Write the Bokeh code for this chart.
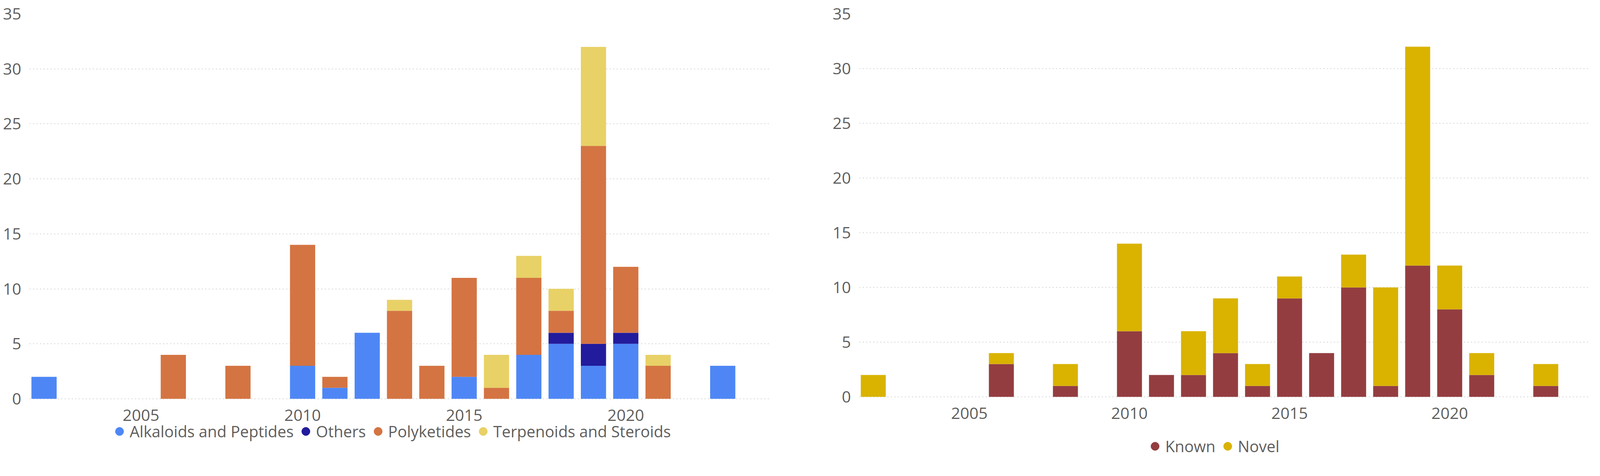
from bokeh.plotting import figure
from bokeh.models import (ColumnDataSource, Range1d, FixedTicker, Legend, LegendItem)
from bokeh.layouts import row
from bokeh.embed import file_html
from bokeh.resources import INLINE

# ---------------- data ----------------
years = [2002, 2006, 2008, 2010, 2011, 2012, 2013, 2014, 2015, 2016, 2017, 2018, 2019, 2020, 2021, 2023]

alkaloids_peptides   = [2, 0, 0, 3, 1, 6, 0, 0, 2, 0, 4, 5, 3, 5, 0, 3]
others               = [0, 0, 0, 0, 0, 0, 0, 0, 0, 0, 0, 1, 2, 1, 0, 0]
polyketides          = [0, 4, 3, 11, 1, 0, 8, 3, 9, 1, 7, 2, 18, 6, 3, 0]
terpenoids_steroids  = [0, 0, 0, 0, 0, 0, 1, 0, 0, 3, 2, 2, 9, 0, 1, 0]

known = [0, 3, 1, 6, 2, 2, 4, 1, 9, 4, 10, 1, 12, 8, 2, 1]
novel = [2, 1, 2, 8, 0, 4, 5, 2, 2, 0, 3, 9, 20, 4, 2, 2]

class_names = ["Alkaloids and Peptides", "Others", "Polyketides", "Terpenoids and Steroids"]
class_colors = ["#4E87F5", "#221C9C", "#D47442", "#E8D166"]
status_names = ["Known", "Novel"]
status_colors = ["#943D40", "#D9B300"]

x_ticks = [2005, 2010, 2015, 2020]
y_ticks = [0, 5, 10, 15, 20, 25, 30, 35]

FONT = "Open Sans"
TXT = "#605E5C"
NAN = float("nan")


def make_fig(keys, data, names, colors, x0, x1, y0, frame_w, frame_h, top, bottom,
             left, right, leg_x, leg_y):
    src = ColumnDataSource(dict(year=years, **{k: v for k, v in zip(keys, data)}))
    p = figure(output_backend="svg", toolbar_location=None,
               x_range=Range1d(x0, x1), y_range=Range1d(y0, 35),
               frame_width=frame_w, frame_height=frame_h,
               min_border_left=left, min_border_right=right,
               min_border_top=top, min_border_bottom=bottom,
               background_fill_color="white", border_fill_color="white")
    p.outline_line_color = None
    p.vbar_stack(keys, x="year", width=0.78, color=colors, line_width=0, source=src)

    for ax in (p.xaxis[0], p.yaxis[0]):
        ax.axis_line_color = None
        ax.major_tick_line_color = None
        ax.minor_tick_line_color = None
        ax.major_tick_in = 0
        ax.major_tick_out = 0
        ax.minor_tick_out = 0
        ax.major_label_text_font = FONT
        ax.major_label_text_font_size = "41px"
        ax.major_label_text_color = TXT
    p.xaxis.ticker = FixedTicker(ticks=x_ticks)
    p.xaxis.fixed_location = 0
    p.yaxis.ticker = FixedTicker(ticks=y_ticks)
    p.yaxis.major_label_standoff = 21
    p.xaxis.major_label_standoff = 28

    p.xgrid.grid_line_color = None
    p.ygrid.grid_line_color = "#D4D4D4"
    p.ygrid.grid_line_width = 2
    p.ygrid.grid_line_dash = "3 6"

    # legend proxies: one undrawn (NaN) point each, only used for the legend swatch
    items = []
    for n, c in zip(names, colors):
        r = p.scatter(x=[NAN], y=[NAN], marker="circle", size=10,
                      fill_color=c, line_color=c)
        items.append(LegendItem(label=n, renderers=[r]))
    leg = Legend(items=items, orientation="horizontal", location=(leg_x, leg_y),
                 glyph_width=53, glyph_height=53, label_standoff=-7, spacing=4,
                 label_text_font=FONT, label_text_font_size="40px",
                 label_text_color=TXT, border_line_color=None,
                 background_fill_alpha=0, padding=0, margin=0)
    p.add_layout(leg, "center")
    return p


p1 = make_fig(["alk", "oth", "pol", "ter"],
              [alkaloids_peptides, others, polyketides, terpenoids_steroids],
              class_names, class_colors,
              2001.55, 2024.43, -5.26, 1893, 1133, 30, 4, 75, 156, 204, 2)
p2 = make_fig(["known", "novel"], [known, novel], status_names, status_colors,
              2001.56, 2024.37, -5.43, 1870, 1132, 35, 0, 75, 11, 731, -2)

layout = row(p1, p2)
open("out.html", "w").write(file_html(layout, INLINE))
